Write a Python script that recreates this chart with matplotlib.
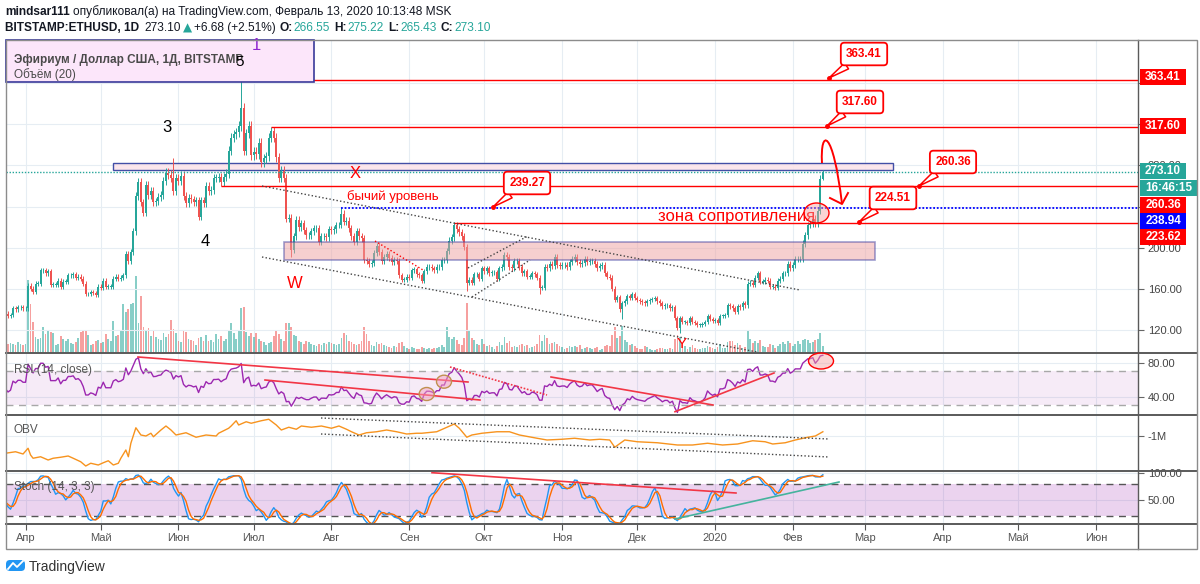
## ethusd_chart
import datetime as dt
import numpy as np
import pandas as pd
import matplotlib
matplotlib.use("Agg")
import matplotlib.pyplot as plt
import matplotlib.dates as mdates
import matplotlib.transforms as mtransforms
from matplotlib.patches import Rectangle, Ellipse, FancyBboxPatch, PathPatch
from matplotlib.path import Path
from matplotlib.lines import Line2D

plt.rcParams['font.family'] = ['Liberation Sans', 'DejaVu Sans']

# ---- data (daily closes, Mar 1 2019 .. Feb 13 2020) ----
closes_mar = [136, 132, 132, 126, 137, 138, 138, 134, 136, 134, 132, 134, 132, 133, 136, 143,
              140, 138, 139, 140, 136, 137, 137, 136, 134, 135, 141, 140, 142, 142, 141]
closes_apr = [141, 163, 160, 157, 165, 165, 178, 178, 175, 177, 164, 164, 164, 168, 162, 167,
              167, 173, 173, 174, 171, 172, 170, 165, 155, 155, 157, 156, 154, 162]
closes_may = [161, 168, 162, 162, 162, 170, 172, 170, 171, 173, 194, 187, 196, 216, 250, 264,
              244, 234, 261, 251, 255, 244, 245, 249, 251, 265, 273, 271, 268, 255, 268]
closes_jun = [265, 270, 250, 243, 248, 247, 244, 246, 230, 246, 243, 260, 255, 256, 268, 268,
              269, 264, 269, 272, 294, 307, 310, 312, 318, 336, 294, 311, 318, 290]
closes_jul = [293, 291, 302, 283, 287, 289, 307, 313, 307, 288, 268, 275, 268, 228, 229, 198,
              211, 227, 220, 224, 217, 212, 212, 216, 219, 219, 206, 211, 211, 210, 218]
closes_aug = [217, 218, 222, 222, 233, 225, 226, 219, 211, 206, 216, 211, 209, 188, 187, 184,
              185, 195, 202, 196, 187, 191, 194, 190, 186, 188, 187, 173, 169, 169, 172]
closes_sep = [171, 178, 179, 174, 173, 168, 177, 181, 181, 180, 178, 181, 181, 188, 188, 197,
              207, 210, 222, 218, 215, 211, 201, 166, 169, 166, 174, 174, 170, 180]
closes_oct = [177, 180, 175, 176, 176, 170, 180, 181, 193, 191, 181, 180, 187, 187, 181, 175,
              177, 172, 172, 175, 174, 171, 161, 161, 181, 180, 184, 182, 191, 183, 182]
closes_nov = [183, 183, 181, 186, 189, 191, 186, 184, 185, 189, 186, 187, 187, 184, 180, 182,
              183, 175, 172, 171, 160, 149, 152, 140, 146, 148, 153, 151, 155, 151]
closes_dec = [149, 148, 147, 146, 148, 149, 150, 151, 148, 146, 143, 144, 144, 141, 142, 132,
              122, 132, 128, 128, 127, 132, 128, 127, 125, 125, 126, 128, 134, 131, 129]
closes_jan = [130, 127, 134, 134, 135, 144, 143, 141, 138, 143, 142, 146, 144, 165, 166, 164,
              171, 175, 167, 167, 169, 168, 162, 162, 161, 168, 170, 175, 175, 184, 180]
closes_feb = [183, 189, 189, 189, 204, 212, 222, 223, 228, 223, 236, 266.55, 273.10]

# daily volume, thousand ETH
vol_mar = [45, 50, 40, 70, 60, 45, 40, 45, 35, 30, 40, 45, 40, 35, 45, 60,
           45, 40, 35, 40, 50, 40, 30, 30, 45, 50, 45, 40, 55, 45, 40]
vol_apr = [45, 365, 245, 155, 80, 70, 75, 130, 95, 110, 105, 100, 40, 45, 85, 70,
           60, 70, 50, 45, 55, 75, 105, 115, 110, 90, 40, 45, 60, 65]
vol_may = [50, 55, 95, 70, 60, 160, 85, 90, 110, 245, 205, 220, 245, 250, 385, 150,
           285, 130, 115, 125, 85, 110, 80, 70, 65, 100, 80, 95, 165, 120, 100]
vol_jun = [60, 55, 115, 105, 70, 65, 60, 40, 75, 80, 60, 90, 60, 65, 55, 95,
           70, 85, 60, 70, 110, 150, 100, 70, 115, 225, 230, 105, 85, 100]
vol_jul = [80, 100, 70, 60, 55, 40, 50, 55, 85, 115, 95, 70, 60, 150, 150, 130,
           90, 85, 60, 55, 45, 60, 55, 45, 40, 35, 45, 40, 50, 45, 55]
vol_aug = [50, 45, 40, 45, 75, 100, 90, 60, 55, 45, 40, 45, 60, 130, 95, 60,
           40, 35, 55, 45, 50, 40, 35, 30, 25, 35, 30, 50, 55, 35, 25]
vol_sep = [20, 30, 25, 20, 20, 30, 25, 20, 25, 20, 25, 25, 30, 40, 30, 130,
           80, 70, 80, 65, 45, 40, 75, 250, 110, 75, 65, 45, 40, 70]
vol_oct = [45, 35, 40, 30, 20, 35, 55, 40, 80, 50, 60, 30, 35, 30, 40, 45,
           35, 40, 25, 30, 35, 45, 90, 60, 90, 75, 45, 50, 55, 45, 35]
vol_nov = [30, 20, 25, 35, 30, 35, 30, 40, 20, 25, 30, 25, 20, 25, 30, 15,
           20, 35, 40, 35, 90, 130, 75, 85, 135, 65, 55, 40, 45, 35]
vol_dec = [25, 20, 20, 35, 30, 20, 15, 15, 20, 25, 25, 20, 20, 25, 20, 70,
           90, 80, 50, 35, 20, 30, 40, 25, 20, 20, 25, 25, 35, 30, 25]
vol_jan = [20, 30, 45, 25, 25, 55, 60, 60, 40, 50, 40, 25, 30, 110, 70, 50,
           60, 50, 65, 35, 30, 30, 45, 40, 25, 35, 45, 55, 45, 60, 50]
vol_feb = [35, 45, 60, 45, 65, 70, 65, 50, 55, 65, 70, 100, 35]

# marked extremes
marked_highs = {"2019-05-30": 287, "2019-06-26": 363.41, "2019-07-08": 317.60,
                "2019-08-05": 239.27, "2019-09-19": 224.51, "2020-02-13": 275.22}
marked_lows = {"2019-06-18": 260.36, "2019-07-16": 191, "2019-09-24": 158, "2019-10-23": 155,
               "2019-11-25": 131, "2019-12-18": 117, "2020-02-13": 265.43}

# OBV (millions)
obv_dates = ["2019-03-24", "2019-03-28", "2019-03-31", "2019-04-02", "2019-04-03", "2019-04-04",
             "2019-04-07", "2019-04-10", "2019-04-12", "2019-04-15", "2019-04-18", "2019-04-20",
             "2019-04-23", "2019-04-25", "2019-04-27", "2019-04-30", "2019-05-02", "2019-05-04",
             "2019-05-06", "2019-05-08", "2019-05-09", "2019-05-11", "2019-05-12", "2019-05-13",
             "2019-05-15", "2019-05-17", "2019-05-19", "2019-05-21", "2019-05-22", "2019-05-25",
             "2019-05-27", "2019-05-29", "2019-05-31", "2019-06-04", "2019-06-08", "2019-06-12",
             "2019-06-16", "2019-06-17", "2019-06-21", "2019-06-22", "2019-06-24", "2019-06-25",
             "2019-06-28", "2019-06-30", "2019-07-04", "2019-07-07", "2019-07-10", "2019-07-12",
             "2019-07-15", "2019-07-18", "2019-07-20", "2019-07-24", "2019-07-28", "2019-08-01",
             "2019-08-04", "2019-08-07", "2019-08-09", "2019-08-12", "2019-08-15", "2019-08-19",
             "2019-08-23", "2019-08-27", "2019-08-31", "2019-09-04", "2019-09-06", "2019-09-12",
             "2019-09-19", "2019-09-21", "2019-09-24", "2019-09-26", "2019-09-30", "2019-10-06",
             "2019-10-11", "2019-10-15", "2019-10-22", "2019-10-26", "2019-11-01", "2019-11-06",
             "2019-11-12", "2019-11-16", "2019-11-20", "2019-11-22", "2019-11-26", "2019-12-01",
             "2019-12-09", "2019-12-17", "2019-12-23", "2019-12-29", "2020-01-04", "2020-01-10",
             "2020-01-16", "2020-01-21", "2020-01-24", "2020-01-29", "2020-02-02", "2020-02-07",
             "2020-02-10", "2020-02-13"]
obv_vals = [-2.38, -2.26, -2.44, -1.98, -2.52, -2.78, -2.66, -2.92, -2.78, -2.70, -2.60, -2.78,
            -3.06, -3.40, -3.18, -3.32, -3.14, -2.98, -3.32, -3.18, -2.78, -2.12, -2.66, -1.58,
            -0.34, -0.92, -1.00, -0.78, -1.06, -0.52, -0.20, -0.52, -0.92, -0.74, -1.10, -0.92,
            -1.00, -0.78, -0.38, -0.20, 0.22, -0.12, 0.14, 0.02, 0.22, 0.34, -0.12, -0.52,
            -0.30, -0.46, -0.20, -0.30, -0.20, -0.38, -0.20, -0.46, -0.66, -0.92, -0.74, -0.66,
            -0.52, -0.66, -0.84, -0.78, -0.78, -0.66, -0.04, -0.38, -1.10, -0.92, -0.78, -0.66,
            -0.66, -0.92, -1.18, -1.32, -1.26, -1.18, -1.32, -1.26, -1.32, -1.90, -1.32, -1.46,
            -1.54, -1.72, -1.72, -1.58, -1.72, -1.64, -1.38, -1.46, -1.64, -1.54, -1.32, -1.10,
            -1.00, -0.66]

month_ticks = ["2019-04-01", "2019-05-01", "2019-06-01", "2019-07-01", "2019-08-01", "2019-09-01",
               "2019-10-01", "2019-11-01", "2019-12-01", "2020-01-01", "2020-02-01", "2020-03-01",
               "2020-04-01", "2020-05-01", "2020-06-01"]
month_labels = ["Апр", "Май", "Июн", "Июл", "Авг", "Сен", "Окт", "Ноя", "Дек", "2020", "Фев",
                "Мар", "Апр", "Май", "Июн"]

# ---- derived series ----
dates = pd.date_range("2019-03-01", "2020-02-13", freq="D")
close = np.array(closes_mar + closes_apr + closes_may + closes_jun + closes_jul + closes_aug +
                 closes_sep + closes_oct + closes_nov + closes_dec + closes_jan + closes_feb, float)
volume = np.array(vol_mar + vol_apr + vol_may + vol_jun + vol_jul + vol_aug + vol_sep + vol_oct +
                  vol_nov + vol_dec + vol_jan + vol_feb, float)
assert len(close) == len(dates) == len(volume)

WICK = 0.015
opn = np.r_[close[0], close[:-1]]
high = np.maximum(opn, close) * (1 + WICK)
low = np.minimum(opn, close) * (1 - WICK)
for d, v in marked_highs.items():
    high[dates.get_loc(pd.Timestamp(d))] = v
for d, v in marked_lows.items():
    low[dates.get_loc(pd.Timestamp(d))] = v

cs = pd.Series(close)
delta = cs.diff().fillna(0)
gain = delta.clip(lower=0).ewm(alpha=1 / 14, adjust=False).mean()
loss = (-delta).clip(lower=0).ewm(alpha=1 / 14, adjust=False).mean()
rsi = 100 - 100 / (1 + gain / loss)

ll = pd.Series(low).rolling(14).min()
hh = pd.Series(high).rolling(14).max()
k_raw = 100 * (cs - ll) / (hh - ll)
stoch_k = k_raw.rolling(3).mean()
stoch_d = stoch_k.rolling(3).mean()

x = mdates.date2num(dates)
up = close >= opn
UP, DOWN = '#26a69a', '#ef5350'
RED, BLUE = '#ff0000', '#0000ff'

# ---- figure / layout ----
W, H, DPI = 1200, 584, 100
fig = plt.figure(figsize=(W / DPI, H / DPI), dpi=DPI)
PX = mtransforms.Affine2D().scale(1 / DPI, -1 / DPI).translate(0, H / DPI) + fig.dpi_scale_trans


def box(x0, y0, x1, y1):
    return [x0 / W, 1 - y1 / H, (x1 - x0) / W, (y1 - y0) / H]


x_start = mdates.date2num(dt.datetime(2019, 4, 1))
xlim = (x_start - 7.8, x_start + 443.7)
mt = mdates.date2num(pd.to_datetime(month_ticks))
GRID = '#e6edf3'

ax_vol = fig.add_axes(box(6, 40, 1138, 353), zorder=1)
ax = fig.add_axes(box(6, 40, 1138, 353), zorder=2)
ax_rsi = fig.add_axes(box(6, 353, 1138, 415), zorder=1)
ax_obv = fig.add_axes(box(6, 415, 1138, 471), zorder=1)
ax_st = fig.add_axes(box(6, 471, 1138, 524), zorder=1)
ax_t = fig.add_axes(box(6, 524, 1138, 549), zorder=1)
ax.patch.set_visible(False)

for a in (ax_vol, ax, ax_rsi, ax_obv, ax_st, ax_t):
    a.set_xlim(*xlim)
    for s in a.spines.values():
        s.set_visible(False)
    a.set_xticks(mt)
    a.tick_params(axis='x', bottom=False, labelbottom=False)
    a.yaxis.tick_right()
    a.tick_params(axis='y', length=4, color='#666', labelsize=8, labelcolor='#444', pad=3)

for a in (ax_vol, ax_rsi, ax_obv, ax_st):
    a.grid(True, color=GRID, lw=0.8)
    a.set_axisbelow(True)
ax_vol.set_yticks([])
ax_vol.set_ylim(0, 1565)
ax_vol.grid(axis='y', visible=False)

# main price panel; labels hidden behind the price tags are left out
price_ticks = np.arange(120, 400, 40)
ax.set_ylim(97.7, 401.8)
ax.set_yticks(price_ticks)
ax.set_yticklabels(["" if v in (240, 320, 360) else f"{v:.2f}" for v in price_ticks])
for yv in price_ticks:
    ax.axhline(yv, color=GRID, lw=0.8, zorder=0)

# volume
ax_vol.bar(x, volume, width=0.7, color=np.where(up, UP, DOWN), alpha=0.55, lw=0)

# candles
ax.vlines(x, low, high, colors=np.where(up, UP, DOWN), lw=0.7, zorder=3)
body = np.where(np.abs(close - opn) < 0.4, 0.4, close - opn)
ax.bar(x, body, bottom=opn, width=0.8, color=np.where(up, UP, DOWN), lw=0, zorder=4)

# drawn zones and levels (price coordinates)
d2n = lambda s: mdates.date2num(pd.Timestamp(s))
ax.add_patch(Rectangle((d2n("2019-05-06"), 275.2), d2n("2020-03-12") - d2n("2019-05-06"), 7.4,
                       fc='#fbe4ea', ec='#2e3d9e', lw=1, alpha=0.9, zorder=2))
ax.add_patch(Rectangle((d2n("2019-07-13"), 188), d2n("2020-03-05") - d2n("2019-07-13"), 17.8,
                       fc='#eea0a0', ec='#4040a0', lw=1.2, alpha=0.5, zorder=5))
for lvl, start in [(363.41, "2019-06-26"), (317.60, "2019-07-08"), (260.36, "2019-06-18"),
                   (223.62, "2019-09-19")]:
    ax.hlines(lvl, d2n(start), xlim[1], color=RED, lw=1, zorder=6)
ax.hlines(238.94, d2n("2019-08-05"), xlim[1], color=BLUE, lw=1.3, ls=(0, (1, 1)), zorder=6)
ax.axhline(273.10, color=UP, lw=1, ls=(0, (1, 1.2)), zorder=6)


def px_line(pts, **kw):
    xs, ys = zip(*pts)
    fig.add_artist(Line2D(xs, ys, transform=PX, zorder=10, **kw))


DOT = dict(color='#444', lw=1, ls=(0, (1, 1.6)))
px_line([(262, 186), (800, 290)], **DOT)
px_line([(262, 257), (757, 352)], **DOT)
px_line([(468, 268), (528, 236)], **DOT)
px_line([(472, 297), (530, 260)], **DOT)
px_line([(375, 241), (423, 270)], color=RED, lw=1, ls=(0, (1, 1.6)))

# legend box
fig.add_artist(Rectangle((6, 40), 308, 42, transform=PX, fc='#fce6fa', ec='#3a3a9a', lw=1.2, zorder=9))
fig.text(14, 60, "Эфириум / Доллар США, 1Д, BITSTAMP", transform=PX, fontsize=8.5, weight='bold',
         color='#4a4a4a', va='center', zorder=10)
fig.text(14, 75, "Объём (20)", transform=PX, fontsize=8.5, color='#4a4a4a', va='center', zorder=10)

# wave labels
for s, px_, py_, col, fs in [("1", 256, 46, '#8e24d0', 12), ("5", 240, 62, 'black', 11),
                             ("3", 167, 128, 'black', 12), ("4", 205, 242, 'black', 12),
                             ("W", 295, 283, RED, 12), ("X", 355, 173, RED, 12),
                             ("Y", 682, 344, RED, 11)]:
    fig.text(px_, py_, s, transform=PX, color=col, fontsize=fs, ha='center', va='center', zorder=10)
fig.text(347, 197, "бычий уровень", transform=PX, color=RED, fontsize=9.5, va='center', zorder=10)
fig.text(658, 217, "зона сопротивления", transform=PX, color=RED, fontsize=12, va='center', zorder=10)

# callouts
for label, bx, by, tx, ty in [("363.41", 864, 54, 829, 78), ("317.60", 860, 102, 827, 126),
                              ("239.27", 527, 183, 493, 207), ("260.36", 953, 162, 919, 186),
                              ("224.51", 893, 198, 859, 222)]:
    ax.annotate(label, xy=(tx, ty), xycoords=PX, xytext=(bx, by), textcoords=PX,
                ha='center', va='center', fontsize=8.5, weight='bold', color=RED,
                annotation_clip=False, zorder=12,
                bbox=dict(boxstyle='round,pad=0.45,rounding_size=0.3', fc='white', ec=RED, lw=1.3),
                arrowprops=dict(arrowstyle='wedge,tail_width=0.6,shrink_factor=0.5', fc='white',
                                ec=RED, lw=1.1, shrinkA=0, shrinkB=0))
    fig.add_artist(Line2D([tx], [ty], transform=PX, marker='o', ms=2.5, color=RED, zorder=12))

# curved arrow + circle near the last candle
arc = Path([(822, 163), (820, 128), (833, 128), (842, 204)],
           [Path.MOVETO, Path.CURVE4, Path.CURVE4, Path.CURVE4])
fig.add_artist(PathPatch(arc, transform=PX, fc='none', ec=RED, lw=1.4, zorder=11))
px_line([(830, 198), (842, 204), (848, 193)], color=RED, lw=1.4)
fig.add_artist(Ellipse((816.5, 213), 25, 20, transform=PX, fc='#f4a0a0', alpha=0.45, ec='none', zorder=11))
fig.add_artist(Ellipse((816.5, 213), 25, 20, transform=PX, fc='none', ec=RED, lw=1, zorder=11))

# ---- RSI ----
ax_rsi.plot(x, rsi, color='#9c27b0', lw=1)
ax_rsi.axhspan(30, 70, color='#9c27b0', alpha=0.09, lw=0)
for lv in (70, 30):
    ax_rsi.axhline(lv, color='#a8a8a8', lw=1, ls=(0, (5, 4)))
ax_rsi.set_ylim(18, 92)
ax_rsi.set_yticks([40, 80])
ax_rsi.set_yticklabels(["40.00", "80.00"])
fig.text(14, 370, "RSI (14, close)", transform=PX, fontsize=8.5, color='#555', va='center', zorder=10)
px_line([(138, 357), (468, 382)], color='#f23645', lw=1.2)
px_line([(265, 380), (480, 400)], color='#f23645', lw=1.2)
px_line([(450, 367), (547, 395)], color='#f23645', lw=1.2, ls=(0, (1, 1)))
px_line([(551, 377), (713, 405)], color='#f23645', lw=1.2)
px_line([(675, 411.7), (774, 373)], color='#f23645', lw=1.2)
for cx, cy in [(426.7, 394), (444, 381.7)]:
    fig.add_artist(Ellipse((cx, cy), 15, 13, transform=PX, fc='#f4a0c0', alpha=0.5, ec='none', zorder=11))
    fig.add_artist(Ellipse((cx, cy), 15, 13, transform=PX, fc='none', ec='#c09050', lw=1, zorder=11))
fig.add_artist(Ellipse((821, 361), 25, 16, transform=PX, fc='#f4a0a0', alpha=0.45, ec='none', zorder=11))
fig.add_artist(Ellipse((821, 361), 25, 16, transform=PX, fc='none', ec=RED, lw=1, zorder=11))

# ---- OBV ----
ax_obv.plot(mdates.date2num(pd.to_datetime(obv_dates)), obv_vals, color='#f7931e', lw=1)
ax_obv.set_ylim(-3.8, 0.68)
ax_obv.set_yticks([-1])
ax_obv.set_yticklabels(["-1M"])
fig.text(14, 430, "OBV", transform=PX, fontsize=8.5, color='#555', va='center', zorder=10)
px_line([(321, 418), (829, 439)], **DOT)
px_line([(321, 434), (829, 457)], **DOT)

# ---- Stochastic ----
ax_st.axhspan(20, 80, color='#9c27b0', alpha=0.2, lw=0)
for lv in (80, 20):
    ax_st.axhline(lv, color='#555', lw=1, ls=(0, (5, 4)))
ax_st.plot(x, stoch_k, color='#2196f3', lw=1)
ax_st.plot(x, stoch_d, color='#ff6d00', lw=1)
ax_st.set_ylim(5.8, 103)
ax_st.set_yticks([50, 100])
ax_st.set_yticklabels(["50.00", "100.00"])
fig.text(14, 487, "Stoch (14, 3, 3)", transform=PX, fontsize=8.5, color='#555', va='center', zorder=10)
px_line([(432, 472.7), (736, 493)], color='#f23645', lw=1.2)
px_line([(675, 519), (839, 482)], color='#45b39d', lw=1.2)

# ---- time axis ----
ax_t.set_yticks([])
ax_t.tick_params(axis='x', top=True, bottom=False, direction='in', length=4, color='#555')
for pos, lab in zip(mt, month_labels):
    ax_t.text(pos, 0.44, lab, transform=ax_t.get_xaxis_transform(), ha='center', va='center',
              fontsize=8, color='#555')

# ---- frame ----
fig.add_artist(Rectangle((6, 40), 1191, 509, transform=PX, fc='none', ec='#8c8c8c', lw=1, zorder=13))
for yy in (353, 415, 471, 524):
    px_line([(6, yy), (1197, yy)], color='#5a5a5a', lw=1.4)
px_line([(1138, 40), (1138, 549)], color='#5a5a5a', lw=1)

# ---- price tags on the right axis ----
for yy, lab, col, wdt in [(77, "363.41", RED, 46), (126, "317.60", RED, 46), (171, "273.10", UP, 46),
                          (188, "16:46:15", UP, 57), (205, "260.36", RED, 46),
                          (221, "238.94", BLUE, 46), (237, "223.62", RED, 46)]:
    fig.add_artist(Rectangle((1140, yy - 8), wdt, 16, transform=PX, fc=col, ec='none', zorder=11))
    fig.text(1140 + wdt / 2, yy, lab, transform=PX, fontsize=8.5, weight='bold', color='white',
             ha='center', va='center', zorder=12)

# ---- header ----
renderer = fig.canvas.get_renderer()


def text_run(x0, y0, parts):
    for s, kw, gap in parts:
        t = fig.text(x0, y0, s, transform=PX, va='center', ha='left', fontsize=8.6, **kw)
        x0 += t.get_window_extent(renderer=renderer).width + gap


DARK = dict(color='#131722')
TEAL = dict(color='#26a69a')
text_run(5, 12, [("mindsar111", dict(weight='bold', **DARK), 3),
                 ("опубликовал(а) на TradingView.com, Февраль 13, 2020 10:13:48 MSK", DARK, 0)])
text_run(5, 28, [("BITSTAMP:ETHUSD, 1D", dict(weight='bold', **DARK), 5), ("273.10", DARK, 2),
                 ("▲", dict(family=['DejaVu Sans'], **TEAL), 2), ("+6.68 (+2.51%)", DARK, 4),
                 ("O:", dict(weight='bold', **DARK), 1), ("266.55", TEAL, 4),
                 ("H:", dict(weight='bold', **DARK), 1), ("275.22", TEAL, 4),
                 ("L:", dict(weight='bold', **DARK), 1), ("265.43", TEAL, 4),
                 ("C:", dict(weight='bold', **DARK), 1), ("273.10", TEAL, 0)])

# ---- TradingView logo ----
fig.add_artist(FancyBboxPatch((6, 560), 19, 11, boxstyle='round,pad=0,rounding_size=4', transform=PX,
                              fc='#2196f3', ec='none', zorder=10))
px_line([(8, 569), (13, 563), (17, 567), (23, 561)], color='white', lw=1.3)
fig.text(29, 567, "TradingView", transform=PX, fontsize=10, color='#333', va='center', zorder=10)

fig.savefig("out.png", dpi=DPI)
